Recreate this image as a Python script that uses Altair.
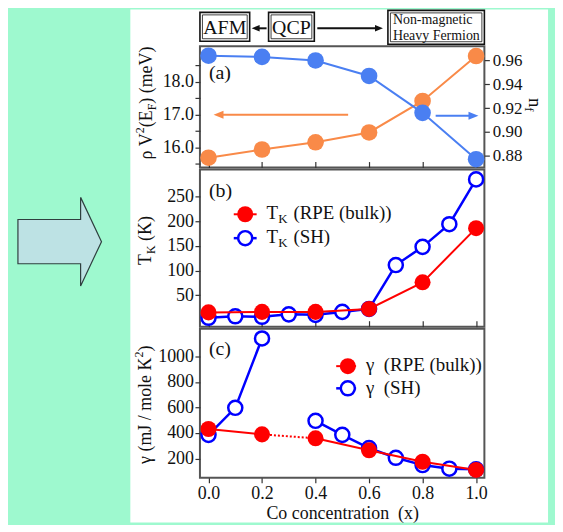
import altair as alt
import pandas as pd

# ---------------- data ----------------
conc = [0.0, 0.2, 0.4, 0.6, 0.8, 1.0]
rho_v2 = [15.68, 15.93, 16.15, 16.45, 17.41, 18.78]
n_f = [0.964, 0.963, 0.960, 0.947, 0.916, 0.877]

tk_rpe_x = [0.0, 0.2, 0.4, 0.6, 0.8, 1.0]
tk_rpe = [15, 16, 16, 22, 76, 186]
tk_sh_x = [0.0, 0.1, 0.2, 0.3, 0.4, 0.5, 0.6, 0.7, 0.8, 0.9, 1.0]
tk_sh = [4, 7, 6, 11, 10, 16, 22, 111, 148, 194, 285]

gam_rpe_x = [0.0, 0.2, 0.4, 0.6, 0.8, 1.0]
gam_rpe = [431, 389, 358, 264, 174, 110]
gam_sh_x = [0.0, 0.1, 0.2, 0.4, 0.5, 0.6, 0.7, 0.8, 0.9, 1.0]
gam_sh = [385, 597, 1141, 495, 385, 282, 205, 148, 120, 115]

x_ticks = [0.0, 0.2, 0.4, 0.6, 0.8, 1.0]
rho_ticks = [15.5, 16.0, 16.5, 17.0, 17.5, 18.0, 18.5]
nf_ticks = [0.88, 0.90, 0.92, 0.94, 0.96]
tk_ticks = [50, 100, 150, 200, 250]
gam_ticks = [200, 400, 600, 800, 1000]

x_domain = [-0.032, 1.031]
rho_domain = [15.38, 19.08]
nf_domain = [0.870, 0.972]
tk_domain = [-14, 305]
gam_domain = [48, 1218]

phase_labels = ["AFM", "QCP", "Non-magnetic", "Heavy Fermion"]
panel_labels = ["(a)", "(b)", "(c)"]
x_title = "Co concentration\u00a0\u00a0(x)"

# ---------------- style ----------------
FONT = "Liberation Serif, Times New Roman, serif"
INK = "#111111"
ORANGE = "#f98a48"
SKY = "#4a7ff2"
RED = "#ff0000"
BLUE = "#0000ff"
MINT = "#9ef9cf"
W = 286

W_EM = {" ": 0.25, "\u00a0": 0.25, "(": 0.333, ")": 0.333, "/": 0.278, ".": 0.25,
        "A": 0.722, "C": 0.667, "E": 0.611, "F": 0.556, "H": 0.722, "K": 0.722,
        "M": 0.889, "P": 0.556, "Q": 0.722, "R": 0.667, "S": 0.556, "T": 0.611,
        "V": 0.722, "J": 0.389, "a": 0.444, "b": 0.5, "c": 0.444, "e": 0.444,
        "f": 0.333, "i": 0.278, "k": 0.5, "l": 0.278, "m": 0.778, "n": 0.5,
        "o": 0.5, "r": 0.333, "t": 0.278, "u": 0.5, "x": 0.5, "\u03c1": 0.5,
        "\u03b3": 0.44}


def twidth(s, size):
    return sum(W_EM.get(ch, 0.5) for ch in s) * size


DUMMY = alt.Data(values=[{"k": 0}])


def text(s, x, y, size=19, angle=0, align="left", dx=0.0, dy=0.0, color=INK):
    return alt.Chart(DUMMY).mark_text(
        text=s, font=FONT, fontSize=size, angle=angle, align=align,
        baseline="alphabetic", dx=dx, dy=dy, color=color,
    ).encode(x=alt.value(x), y=alt.value(y))


def rich(pieces, x, y, angle=0):
    out, off = [], 0.0
    for p in pieces:
        if isinstance(p, (int, float)):
            off += p
            continue
        s, size, shift = p
        out.append(text(s, x, y, size=size, angle=angle, dx=off, dy=shift))
        off += twidth(s, size)
    return out


def box(x1, x2, y1, y2, stroke=INK, sw=1.0, fill="transparent"):
    return alt.Chart(DUMMY).mark_rect(stroke=stroke, strokeWidth=sw, fill=fill).encode(
        x=alt.value(x1), x2=alt.value(x2), y=alt.value(y1), y2=alt.value(y2))


def hline(x1, x2, y, color, sw):
    return alt.Chart(DUMMY).mark_rule(color=color, strokeWidth=sw).encode(
        x=alt.value(x1), x2=alt.value(x2), y=alt.value(y))


def glyph(x, y, shape, size, fill, stroke=None, sw=0.0):
    kw = dict(shape=shape, size=size, filled=True, fill=fill, opacity=1)
    if stroke:
        kw.update(stroke=stroke, strokeWidth=sw)
    return alt.Chart(DUMMY).mark_point(**kw).encode(x=alt.value(x), y=alt.value(y))


ARROW_L = "M -1 0 L 1 -0.8 L 1 0.8 Z"
ARROW_R = "M 1 0 L -1 -0.8 L -1 0.8 Z"
BIG = "M -0.944 -0.5 L 0.472 -0.5 L 0.472 -1 L 0.944 0 L 0.472 1 L 0.472 0.5 L -0.944 0.5 Z"

# ---------------- header ----------------
header = alt.layer(
    box(-70, 350, 0, 516, stroke="white", sw=0, fill="white"),
    glyph(-141, 233.5, BIG, 7921, "#bde2e4", "#2f3f3f", 1.2),
    box(0, 50, 3, 32, sw=1.6), box(2.5, 47.5, 5.5, 29.5, sw=0.8),
    box(69, 115, 3, 32, sw=1.6), box(71.5, 112.5, 5.5, 29.5, sw=0.8),
    box(189, 286, 1, 35, sw=1.6), box(191.5, 283.5, 3.5, 32.5, sw=0.8),
    text(phase_labels[0], 25, 25, size=20, align="center"),
    text(phase_labels[1], 92, 25, size=20, align="center"),
    text(phase_labels[2], 194, 15, size=14),
    text(phase_labels[3], 194, 30.5, size=14),
    hline(58, 67, 19, INK, 2), glyph(56, 19, ARROW_L, 64, INK),
    hline(118, 178, 19, INK, 2), glyph(180, 19, ARROW_R, 64, INK),
).properties(width=W, height=35, view=alt.ViewBackground(strokeWidth=0))

XS = alt.Scale(domain=x_domain, nice=False, zero=False)
inner_x = alt.Axis(values=x_ticks, labels=False, domain=False, offset=-6, tickSize=6, title=None)

# ---------------- panel (a) ----------------
df_a = pd.DataFrame({"x": conc, "rho": rho_v2, "nf": n_f})
x_a = alt.X("x:Q", scale=XS, axis=inner_x)
y_rho = alt.Y("rho:Q", scale=alt.Scale(domain=rho_domain, nice=False, zero=False),
              axis=alt.Axis(values=rho_ticks, orient="left", title=None,
                            labelExpr="datum.value % 1 == 0 ? format(datum.value, '.1f') : ''"))
y_nf = alt.Y("nf:Q", scale=alt.Scale(domain=nf_domain, nice=False, zero=False),
             axis=alt.Axis(values=nf_ticks, orient="right", format=".2f", title=None,
                           labelFontSize=17, labelPadding=3))

orange = alt.layer(
    alt.Chart(df_a).mark_line(color=ORANGE, strokeWidth=2).encode(x=x_a, y=y_rho),
    alt.Chart(df_a).mark_point(filled=True, color=ORANGE, size=280, opacity=1).encode(x=x_a, y=y_rho),
)
sky = alt.layer(
    alt.Chart(df_a).mark_line(color=SKY, strokeWidth=2).encode(x=x_a, y=y_nf),
    alt.Chart(df_a).mark_point(filled=True, color=SKY, size=280, opacity=1).encode(x=x_a, y=y_nf),
)
decor_a = alt.layer(
    text(panel_labels[0], 9, 33, size=20),
    hline(22, 149, 69, ORANGE, 2), glyph(18.7, 69, ARROW_L, 100, ORANGE),
    hline(237, 272, 70, SKY, 2), glyph(275, 70, ARROW_R, 100, SKY),
    *rich([("\u03c1 V", 18, 0), ("2", 12, -8), ("(E", 18, 0), ("F", 12, 4), (") (meV)", 18, 0)],
          -48.5, 114, angle=270),
    *rich([("n", 19, 0), ("f", 13, 4)], 331, 52, angle=90),
)
panel_a = alt.layer(orange, sky, decor_a).resolve_scale(y="independent").properties(width=W, height=122)

# ---------------- panel (b) ----------------
df_tr = pd.DataFrame({"x": tk_rpe_x, "y": tk_rpe})
df_ts = pd.DataFrame({"x": tk_sh_x, "y": tk_sh})
x_b = alt.X("x:Q", scale=XS, axis=inner_x)
y_tk = alt.Y("y:Q", scale=alt.Scale(domain=tk_domain, nice=False, zero=False),
             axis=alt.Axis(values=tk_ticks, title=None))

panel_b = alt.layer(
    alt.Chart(df_ts).mark_line(color=BLUE, strokeWidth=2.5).encode(x=x_b, y=y_tk),
    alt.Chart(df_ts).mark_point(filled=True, fill="white", stroke=BLUE, strokeWidth=2.5,
                                size=200, opacity=1).encode(x=x_b, y=y_tk),
    alt.Chart(df_tr).mark_line(color=RED, strokeWidth=2).encode(x=x_b, y=y_tk),
    alt.Chart(df_tr).mark_point(filled=True, color=RED, size=260, opacity=1).encode(x=x_b, y=y_tk),
    text(panel_labels[1], 9, 28, size=20),
    hline(34, 57, 45, RED, 2), glyph(45.5, 45, "circle", 260, RED),
    text("T", 67, 50), text("K", 78.8, 54, size=13), text("(RPE (bulk))", 94, 50),
    hline(34, 57, 69, BLUE, 2.5), glyph(45.5, 69, "circle", 200, "white", BLUE, 2.5),
    text("T", 67, 74), text("K", 78.8, 78, size=13), text("(SH)", 94, 74),
    *rich([("T", 18, 0), ("K", 12, 4), 4.5, ("(K)", 18, 0)], -49, 96, angle=270),
).properties(width=W, height=158)

# ---------------- panel (c) ----------------
df_gr = pd.DataFrame({"x": gam_rpe_x, "y": gam_rpe})
gr_solid = pd.concat([df_gr[df_gr.x <= 0.2].assign(seg=0), df_gr[df_gr.x >= 0.4].assign(seg=1)])
gr_dot = df_gr[(df_gr.x >= 0.2) & (df_gr.x <= 0.4)]
df_gs = pd.DataFrame({"x": gam_sh_x, "y": gam_sh})
df_gs["seg"] = [0 if v <= 0.2 else 1 for v in gam_sh_x]

x_c = alt.X("x:Q", scale=XS, axis=alt.Axis(values=x_ticks, format=".1f", title=None,
                                          tickSize=5, labelPadding=1.5))
y_g = alt.Y("y:Q", scale=alt.Scale(domain=gam_domain, nice=False, zero=False),
            axis=alt.Axis(values=gam_ticks, format="d", title=None))

panel_c = alt.layer(
    alt.Chart(df_gs).mark_line(color=BLUE, strokeWidth=2.5).encode(x=x_c, y=y_g, detail="seg:N"),
    alt.Chart(df_gs).mark_point(filled=True, fill="white", stroke=BLUE, strokeWidth=2.5,
                                size=200, opacity=1).encode(x=x_c, y=y_g),
    alt.Chart(gr_solid).mark_line(color=RED, strokeWidth=2).encode(x=x_c, y=y_g, detail="seg:N"),
    alt.Chart(gr_dot).mark_line(color=RED, strokeWidth=2, strokeDash=[2, 2]).encode(x=x_c, y=y_g),
    alt.Chart(df_gr).mark_point(filled=True, color=RED, size=260, opacity=1).encode(x=x_c, y=y_g),
    text(panel_labels[2], 9, 26, size=20),
    hline(137, 157, 37.7, RED, 2), glyph(148.7, 37.7, "circle", 260, RED),
    text("\u03b3\u00a0\u00a0(RPE (bulk))", 167, 43),
    hline(137, 157, 60, BLUE, 2.5), glyph(148.7, 60, "circle", 200, "white", BLUE, 2.5),
    text("\u03b3\u00a0\u00a0(SH)", 167, 65.5),
    *rich([("\u03b3 (mJ / mole K", 18, 0), ("2", 12, -8), (")", 18, 0)], -49.5, 136, angle=270),
    text(x_title, 143.5, 191, size=18, align="center"),
).properties(width=W, height=150)

chart = alt.vconcat(header, panel_a, panel_b, panel_c, spacing=2, bounds="flush").properties(
    background=MINT, padding={"left": 7, "top": 0, "right": 7, "bottom": 0}
).configure_axis(
    labelFont=FONT, labelFontSize=18, labelColor=INK, tickColor="#333333", tickWidth=1.2,
    tickSize=5, labelPadding=1.5, domain=False, grid=False,
).configure_view(stroke="#555555", strokeWidth=2)

chart.save("out.html", embed_options={"renderer": "svg", "actions": False})
